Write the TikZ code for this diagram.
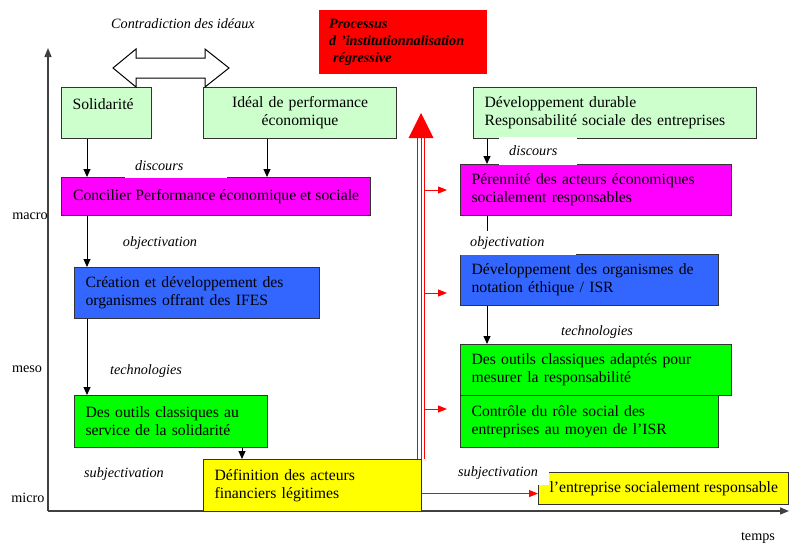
\documentclass[tikz,border=0pt]{standalone}
\usepackage{fontspec}
\setmainfont{Liberation Serif}
\usetikzlibrary{arrows.meta}

\definecolor{lgreen}{HTML}{CCFFCC}
\definecolor{mag}{HTML}{FF00FF}
\definecolor{bleu}{HTML}{3366FF}
\definecolor{vert}{HTML}{00FF00}
\definecolor{jaune}{HTML}{FFFF00}
\newcommand{\boxfont}{\fontsize{15.7}{18}\selectfont}
\newcommand{\lblfont}{\fontsize{14.2}{17}\selectfont}

\begin{document}
\begin{tikzpicture}[
  x=1pt, y=-1pt,
  box/.style={draw=black!80, line width=1.1pt, anchor=north west, inner xsep=11pt, align=left, font=\boxfont},
  lbl/.style={font=\lblfont\itshape, fill=white, inner sep=1pt},
  cover/.style={lbl, anchor=west, align=left, inner xsep=10pt, minimum height=24pt},
  axis/.style={draw=black!75, line width=1.3pt, -{Triangle[length=9pt,width=7pt]}},
  arr/.style={draw=black, line width=1pt, -{Triangle[length=8pt,width=7pt]}},
  redarr/.style={draw=red, line width=1pt, -{Triangle[length=9pt,width=7pt]}},
  redline/.style={draw=red, line width=0.9pt}
]
  \useasboundingbox (0,0) rectangle (789,544);

  % axes
  \coordinate (orig) at (48,511);
  \draw [axis] (orig) -- (48,48);
  \draw [axis] (orig) -- (789,511);
  \node (macro) [font=\lblfont] at (30,216) {macro};
  \node (meso) [font=\lblfont] at (27,369) {meso};
  \node (micro) [font=\lblfont] at (28,498) {micro};
  \node (temps) [font=\lblfont] at (758,538) {temps};

  % left column
  \node (sol) [box, fill=lgreen, text width=68pt, minimum height=51pt] at (61,87) {Solidarité\\\mbox{}};
  \node (ideal) [box, fill=lgreen, text width=171pt, minimum height=51pt, align=center] at (203,87) {Idéal de performance\\économique};
  \node (conc) [box, fill=mag, minimum width=309pt, minimum height=38pt] at (61,177) {Concilier Performance économique et sociale};
  \node (crea) [box, fill=bleu, text width=223pt, minimum height=51pt] at (74,267) {Création et développement des\\organismes offrant des IFES};
  \node (outil) [box, fill=vert, text width=171pt, minimum height=52pt] at (74,395) {Des outils classiques au\\service de la solidarité};
  \node (defin) [box, fill=jaune, text width=196pt, minimum height=52pt] at (203,459) {Définition des acteurs\\financiers légitimes};

  % right column
  \node (dd) [box, fill=lgreen, text width=261pt, minimum height=51pt] at (473,87) {Développement durable\\Responsabilité sociale des entreprises};
  \node (peren) [box, fill=mag, text width=249pt, minimum height=51pt] at (460,164) {Pérennité des acteurs économiques\\socialement responsables};
  \node (notat) [box, fill=bleu, text width=236pt, minimum height=51pt] at (460,254) {Développement des organismes de\\notation éthique / ISR};
  \node (adapt) [box, fill=vert, text width=249pt, minimum height=51pt] at (460,344) {Des outils classiques adaptés pour\\mesurer la responsabilité};
  \node (ctrl) [box, fill=vert, text width=236pt, minimum height=52pt] at (460,395) {Contrôle du rôle social des\\entreprises au moyen de l’ISR};
  \node (ent) [box, fill=jaune, minimum width=249pt, minimum height=32pt] at (538,472) {l’entreprise socialement responsable};

  \node (proc) [fill=red, anchor=north west, text width=148pt, inner xsep=10pt, minimum height=64pt, align=left, font=\lblfont\bfseries\itshape] at (319,10) {Processus\\d ’institutionnalisation\\\hspace*{4pt}régressive};

  % contradiction
  \draw [line width=1pt, fill=white] (113,68) -- (136,49) -- (136,58) -- (205,58) -- (205,49) -- (229,68)
    -- (205,87) -- (205,78) -- (136,78) -- (136,87) -- cycle;
  \node (contra) [lbl] at (183,24) {Contradiction des idéaux};

  \draw [arr] ([xshift=26pt]sol.south west) -- ([xshift=26pt]sol.south west |- conc.north);
  \draw [arr] ([xshift=64pt]ideal.south west) -- ([xshift=64pt]ideal.south west |- conc.north);
  \draw [arr] ([xshift=26pt]conc.south west) -- ([xshift=26pt]conc.south west |- crea.north);
  \draw [arr] ([xshift=13pt]crea.south west) -- ([xshift=13pt]crea.south west |- outil.north);
  \draw [arr] ([xshift=168pt]outil.south west) -- ([xshift=168pt]outil.south west |- defin.north);
  \draw [arr] ([xshift=14pt]dd.south west) -- ([xshift=14pt]dd.south west |- peren.north);
  \draw [arr] ([xshift=27pt]peren.south west) -- ([xshift=27pt]peren.south west |- notat.north);
  \draw [arr] ([xshift=27pt]notat.south west) -- ([xshift=27pt]notat.south west |- adapt.north);

  \node (disc1) [cover, text width=82pt] at (125,166) {discours};
  \node (obj1) [lbl] at (160,243) {objectivation};
  \node (tech1) [lbl] at (146,371) {technologies};
  \node (subj1) [lbl] at (124,474) {subjectivation};
  \node (disc2) [cover, text width=58pt, minimum height=28pt] at (499,151) {discours};
  \node (obj2) [cover, text width=96pt] at (460,243) {objectivation};
  \node (tech2) [lbl] at (597,332) {technologies};
  \node (subj2) [cover, text width=81pt] at (448,473) {subjectivation};

  % red process
  \coordinate (rtop) at (421,138);
  \foreach \dx in {-3.5,0,3.5}
    \draw [redline] ([xshift=\dx pt]rtop) -- ([xshift=\dx pt]rtop |- defin.north);
  \fill [red] (rtop) ++(-12.5,0) -- ++(12.5,-25) -- ++(12.5,25) -- cycle;
  \coordinate (r1) at (424,190);
  \coordinate (r2) at (424,293);
  \coordinate (r3) at (424,409);
  \draw [redarr] (r1) -- ++(23,0);
  \draw [redarr] (r2) -- ++(23,0);
  \draw [redarr] (r3) -- ++(23,0);
  \draw [redarr] ([yshift=-8pt]defin.east) -- ([yshift=-8pt]defin.east -| ent.west);

\end{tikzpicture}
\end{document}
